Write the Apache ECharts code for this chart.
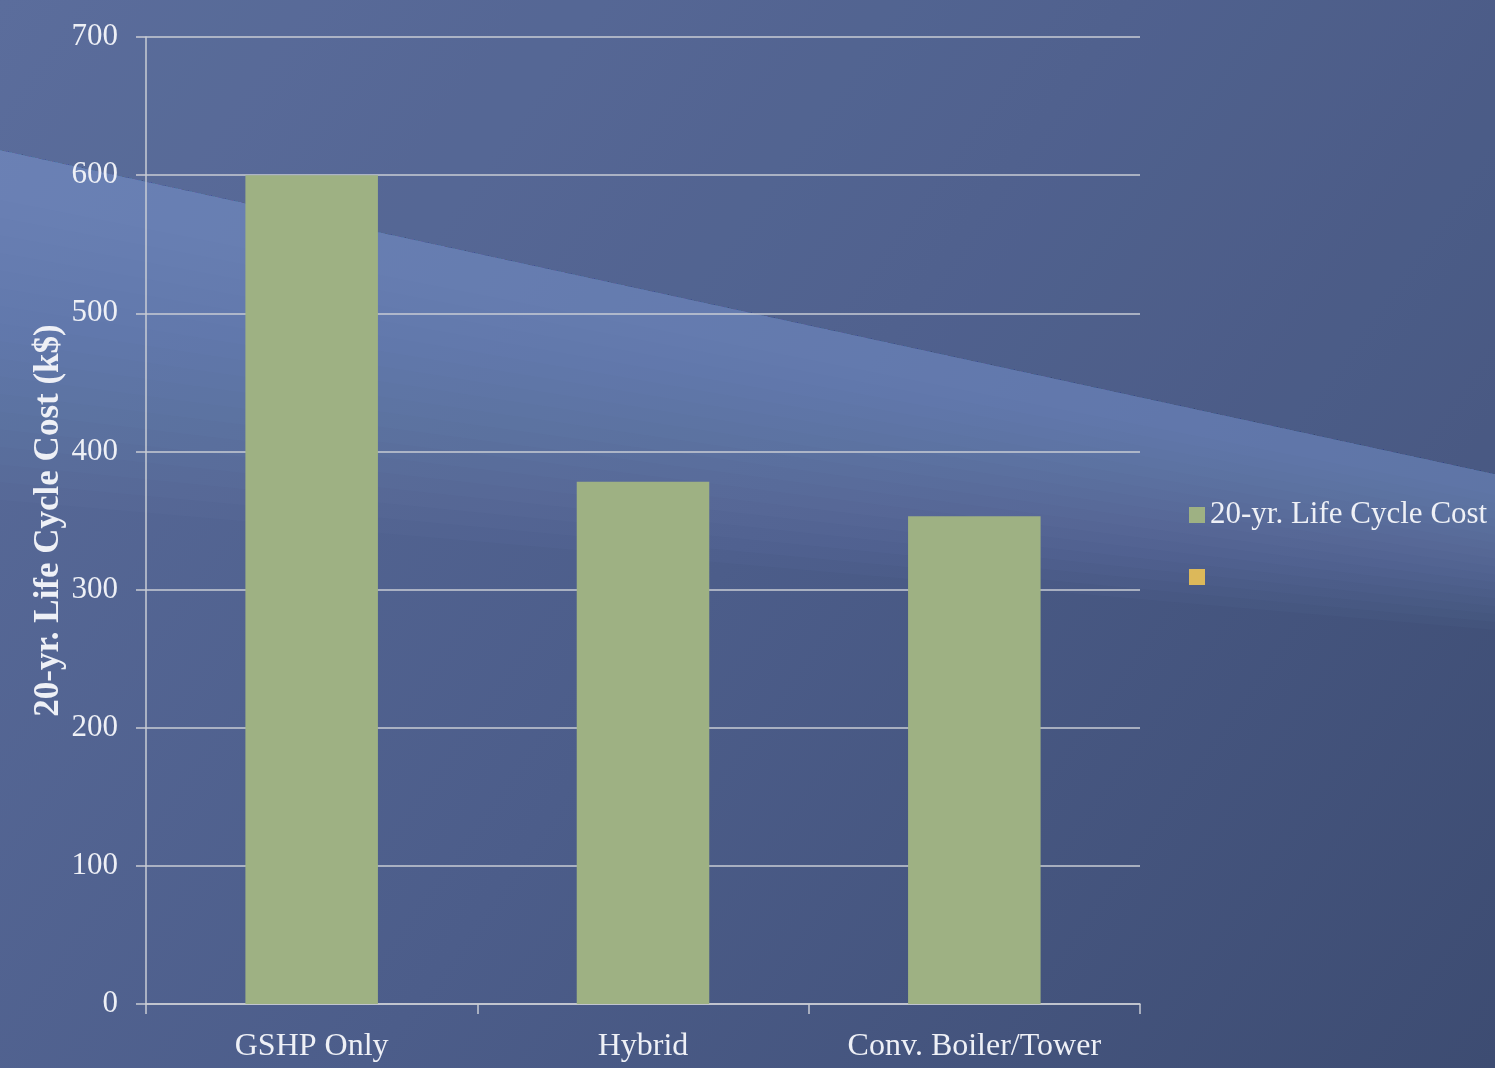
<!DOCTYPE html>
<html>
<head>
<meta charset="utf-8">
<style>
  html, body { margin: 0; padding: 0; background: #4d5e8a; }
  #chart { width: 1495px; height: 1068px; }
</style>
<script src="https://cdn.jsdelivr.net/npm/echarts@6/dist/echarts.min.js"></script>
</head>
<body>
<div id="chart"></div>
<script>
// Life cycle cost comparison (k$)
const categories = ['GSHP Only', 'Hybrid', 'Conv. Boiler/Tower'];
const lifeCycleCost = [600, 378, 353];
const seriesNames = ['20-yr. Life Cycle Cost', ' '];
const yTicks = { min: 0, max: 700, interval: 100 };

const W = 1495, H = 1068;
const textColor = '#eef0f6';
const lineColor = '#c9ccd4';
const fontFamily = '"Liberation Serif", "DejaVu Serif", serif';

const chart = echarts.init(document.getElementById('chart'), null, { renderer: 'canvas' });

// Slide-style backdrop: blue gradient with a soft, fan-shaped light streak
const backdrop = [
  {
    type: 'rect', z: -10, silent: true,
    shape: { x: 0, y: 0, width: W, height: H },
    style: {
      fill: new echarts.graphic.LinearGradient(0, 0, 1, 1, [
        { offset: 0, color: '#5a6c9b' },
        { offset: 0.5, color: '#4c5d8a' },
        { offset: 1, color: '#3d4c72' }
      ])
    }
  },
  {
    type: 'polygon', z: -9, silent: true,
    shape: { points: [[0, 0], [W, 0], [W, 474], [0, 150]] },
    style: { fill: 'rgba(95,112,160,0.22)' }
  }
];
// stacked translucent wedges sharing the upper edge build up the streak's fade
const streakLayers = 18;
for (let k = 0; k < streakLayers; k++) {
  const t = k / (streakLayers - 1);
  backdrop.push({
    type: 'polygon', z: -9, silent: true,
    shape: { points: [[0, 150], [W, 474], [W, 495 + t * 135], [0, 200 + t * 300]] },
    style: { fill: 'rgba(150,175,235,0.036)' }
  });
}

chart.setOption({
  backgroundColor: 'transparent',
  graphic: backdrop,
  textStyle: { fontFamily: fontFamily },
  legend: {
    orient: 'vertical',
    left: 1184,
    top: 494,
    itemWidth: 16,
    itemHeight: 16,
    itemGap: 30,
    icon: 'rect',
    data: seriesNames,
    textStyle: { color: textColor, fontSize: 31, fontFamily: fontFamily, lineHeight: 32 }
  },
  grid: { left: 146, right: 355, top: 37, bottom: 64, containLabel: false },
  xAxis: {
    type: 'category',
    data: categories,
    boundaryGap: true,
    axisLine: { lineStyle: { color: lineColor, width: 1.5 } },
    axisTick: { show: true, length: 10, alignWithLabel: false, lineStyle: { color: lineColor, width: 1.5 } },
    axisLabel: { color: textColor, fontSize: 32, fontFamily: fontFamily, margin: 27 }
  },
  yAxis: {
    type: 'value',
    min: yTicks.min,
    max: yTicks.max,
    interval: yTicks.interval,
    name: '20-yr. Life Cycle Cost (k$)',
    nameLocation: 'middle',
    nameGap: 80,
    nameMoveOverlap: false,
    nameTextStyle: { color: textColor, fontSize: 35, fontWeight: 'bold', fontFamily: fontFamily },
    axisLine: { show: true, lineStyle: { color: lineColor, width: 1.5 } },
    axisTick: { show: true, length: 10, lineStyle: { color: lineColor, width: 1.5 } },
    splitLine: { lineStyle: { color: lineColor, width: 1.5 } },
    axisLabel: { color: textColor, fontSize: 31, fontFamily: fontFamily, margin: 28 }
  },
  series: [
    {
      name: seriesNames[0],
      type: 'bar',
      data: lifeCycleCost,
      barWidth: '40%',
      barGap: '-100%',
      itemStyle: { color: '#9eb183' }
    },
    {
      name: seriesNames[1],
      type: 'bar',
      data: [],
      barWidth: '40%',
      barGap: '-100%',
      itemStyle: { color: '#dcb85a' }
    }
  ]
});
</script>
</body>
</html>
